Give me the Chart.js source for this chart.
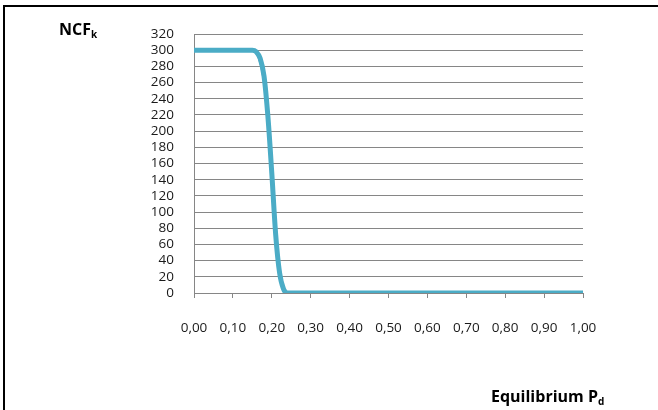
<!DOCTYPE html>
<html>
<head>
<meta charset="utf-8">
<script src="https://cdn.jsdelivr.net/npm/chart.js@4/dist/chart.umd.min.js"></script>
<style>
  html, body { margin: 0; padding: 0; background: #fff; overflow: hidden; }
  #wrap { position: relative; width: 658px; height: 410px; overflow: hidden; }
  #frame { position: absolute; left: 3px; top: 5px; width: 700px; height: 500px; border: 2px solid #000; box-sizing: border-box; }
  #chart { position: absolute; left: 0; top: 0; }
  .axis-title { position: absolute; font-family: "Open Sans", sans-serif; font-weight: bold; font-size: 16px; line-height: 16px; color: #000; white-space: nowrap; }
  .axis-title sub { font-size: 10px; vertical-align: -3px; line-height: 0; }
</style>
</head>
<body>
<div id="wrap">
  <div id="frame"></div>
  <canvas id="chart" width="658" height="410"></canvas>
  <div class="axis-title" style="left:59px; top:21px;">NCF<sub>k</sub></div>
  <div class="axis-title" style="left:491px; top:388px;">Equilibrium P<sub>d</sub></div>
</div>
<script>
// equilibrium default probability (x) and NCF_k values per series
const pdValues = [0.00, 0.10, 0.14, 0.15, 0.16, 0.17, 0.18, 0.19, 0.20, 0.21, 0.22, 0.23, 0.24, 0.25, 0.30, 0.40, 0.50, 0.60, 0.70, 0.80, 0.90, 1.00];
const ncfCyan   = [300, 300, 300, 300, 298, 290, 268, 218, 148, 72, 25, 5, 0, 0, 0, 0, 0, 0, 0, 0, 0, 0];
const ncfPurple = [300, 300, 300, 300, 296, 284, 258, 208, 140, 66, 22, 3, 0, 0, 0, 0, 0, 0, 0, 0, 0, 0];
const ncfRed    = [300, 300, 300, 300, 298, 291, 272, 225, 155, 82, 34, 9, 1, 0, 0, 0, 0, 0, 0, 0, 0, 0];
const ncfGreen  = [300, 300, 300, 300, 298, 290, 270, 222, 150, 75, 28, 6, 0, 0, 0, 0, 0, 0, 0, 0, 0, 0];

const gridColor = '#868686';
const tickFont = { family: 'Open Sans', size: 13.5 };

const toPoints = (vals) => pdValues.map((x, i) => ({ x: x, y: vals[i] }));

const makeSeries = (vals, color, width) => ({
  data: toPoints(vals),
  borderColor: color,
  borderWidth: width,
  pointRadius: 0,
  fill: false,
  cubicInterpolationMode: 'monotone'
});

new Chart(document.getElementById('chart'), {
  type: 'line',
  data: {
    datasets: [
      makeSeries(ncfCyan, '#4BACC6', 5),
      makeSeries(ncfPurple, '#8064A2', 1.5),
      makeSeries(ncfGreen, '#9BBB59', 1.5),
      makeSeries(ncfRed, '#C0504D', 1.5)
    ]
  },
  options: {
    responsive: false,
    animation: false,
    layout: { padding: { top: 34, right: 75, left: 0, bottom: 0 } },
    plugins: { legend: { display: false }, tooltip: { enabled: false } },
    scales: {
      x: {
        type: 'linear',
        min: 0,
        max: 1,
        ticks: {
          stepSize: 0.1,
          autoSkip: false,
          maxRotation: 0,
          padding: 22,
          color: '#1a1a1a',
          font: tickFont,
          callback: (v) => v.toFixed(2).replace('.', ',')
        },
        grid: { drawOnChartArea: false, tickLength: 5, color: gridColor },
        border: { color: gridColor },
        afterFit: (s) => { s.height = 117; }
      },
      y: {
        min: 0,
        max: 320,
        ticks: { stepSize: 20, autoSkip: false, padding: 20, color: '#1a1a1a', font: tickFont },
        grid: { drawTicks: false, color: gridColor },
        border: { color: gridColor },
        afterFit: (s) => { s.width = 194; }
      }
    }
  }
});
</script>
</body>
</html>
